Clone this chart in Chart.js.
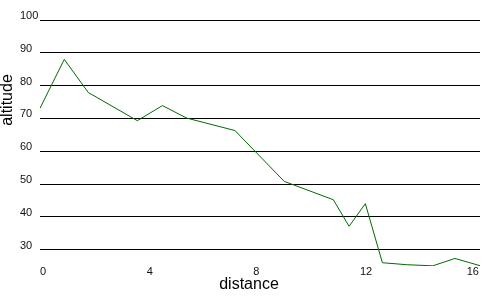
<!DOCTYPE html>
<html>
<head>
<meta charset="utf-8">
<script src="https://cdn.jsdelivr.net/npm/chart.js@4/dist/chart.umd.min.js"></script>
<style>
  html, body { margin: 0; padding: 0; background: #fff; }
  #wrap { width: 500px; height: 300px; }
</style>
</head>
<body>
<div id="wrap"><canvas id="myChart"></canvas></div>
<script>
// values
let distance = [0, 0.91, 1.81, 3.65, 4.59, 5.5, 7.31, 9.16, 11.0, 11.59, 12.2, 12.84, 13.75, 14.73, 15.56, 16.5];
let altitude = [73.1, 88.0, 77.9, 69.3, 73.9, 70.1, 66.3, 50.8, 45.2, 37.1, 44.0, 26.0, 25.4, 25.05, 27.3, 25.1];
let xTicks = [0, 4, 8, 12, 16];
let yTicks = [30, 40, 50, 60, 70, 80, 90, 100];

let points = [];
for (let i = 0; i < distance.length; i++) {
    points.push({ x: distance[i], y: altitude[i] });
}

// axis titles sit off-centre in the original, so they are drawn by hand
const axisTitles = {
    id: 'axisTitles',
    afterDraw(chart) {
        let ctx = chart.ctx;
        ctx.save();
        ctx.fillStyle = '#000';
        ctx.font = '16px "Liberation Sans", Arial, sans-serif';
        ctx.textAlign = 'center';
        ctx.textBaseline = 'middle';
        ctx.fillText('distance', 249, 285);
        ctx.translate(8, 100);
        ctx.rotate(-Math.PI / 2);
        ctx.fillText('altitude', 0, 0);
        ctx.restore();
    }
};

let ctx = document.getElementById('myChart').getContext('2d');
let myChart = new Chart(ctx, {
    type: 'line',
    data: {
        datasets: [{
            data: points,
            borderColor: '#006a00',
            borderWidth: 1,
            pointRadius: 0,
            tension: 0,
            fill: false
        }]
    },
    options: {
        responsive: true,
        maintainAspectRatio: false,
        animation: false,
        layout: { padding: { left: 20, right: 20, top: 20, bottom: 0 } },
        plugins: { legend: { display: false }, tooltip: { enabled: false } },
        scales: {
            x: {
                type: 'linear',
                min: 0,
                max: 16.5,
                grid: { display: false, drawTicks: false },
                border: { display: false },
                afterBuildTicks: s => { s.ticks = xTicks.map(v => ({ value: v })); },
                afterFit: s => { s.height = 34; },
                ticks: {
                    align: 'start',
                    padding: -1,
                    color: '#111',
                    font: { family: '"Liberation Sans", Arial, sans-serif', size: 11 }
                }
            },
            y: {
                min: 25,
                max: 100,
                grid: { color: '#000', lineWidth: 1, drawTicks: false },
                border: { display: false },
                afterBuildTicks: s => { s.ticks = yTicks.map(v => ({ value: v })); },
                afterFit: s => { s.width = 20; },
                ticks: {
                    crossAlign: 'far',
                    labelOffset: -4,
                    padding: 0,
                    color: '#111',
                    font: { family: '"Liberation Sans", Arial, sans-serif', size: 11 }
                }
            }
        }
    },
    plugins: [axisTitles]
});
</script>
</body>
</html>
